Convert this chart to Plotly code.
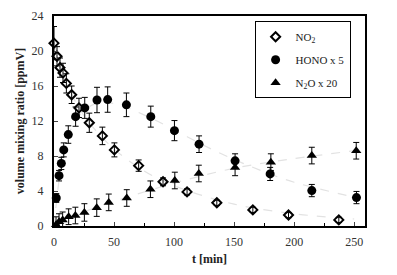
import plotly.graph_objects as go

# NO2
no2_t = [0, 2.5, 5, 7.5, 10.3, 14.7, 20.8, 29.4, 40.3, 50.3, 70.5, 90.8, 110.8, 135.6, 165.6, 195.3, 237.2]
no2_v = [20.9, 19.4, 18.1, 17.5, 16.3, 15.0, 13.5, 11.8, 10.3, 8.7, 6.9, 5.05, 3.9, 2.65, 1.84, 1.25, 0.7]
no2_e = [1.9, 1.1, 1.1, 1.1, 1.1, 1.0, 1.1, 1.1, 1.0, 0.8, 0.65, 0.45, 0.35, 0.3, 0.3, 0.3, 0.3]

# HONO x 5
hono_t = [1.9, 4.2, 6.1, 8.1, 11.9, 18.0, 25.6, 35.8, 44.7, 60.3, 80.6, 100.3, 120.8, 150.8, 180.0, 214.7, 251.9]
hono_v = [3.2, 5.75, 7.15, 8.7, 10.45, 12.5, 13.5, 14.4, 14.45, 13.85, 12.5, 10.9, 9.35, 7.45, 5.95, 4.05, 3.25]
hono_e = [0.5, 0.6, 0.7, 0.8, 1.0, 1.1, 1.2, 1.45, 1.45, 1.35, 1.2, 1.15, 0.95, 0.8, 0.75, 0.7, 0.7]

# N2O x 20
n2o_t = [1.7, 4.2, 7.2, 12.2, 17.8, 25.3, 35.6, 45.6, 60.6, 80.3, 100.6, 120.6, 150.8, 180.6, 214.7, 251.7]
n2o_v = [0.15, 0.5, 0.7, 1.06, 1.2, 1.55, 2.1, 2.7, 3.2, 4.2, 5.2, 6.0, 6.7, 7.3, 8.05, 8.6]
n2o_e = [0.9, 0.9, 0.9, 0.9, 0.95, 1.0, 1.0, 0.95, 0.95, 0.95, 0.95, 0.95, 0.95, 0.95, 0.95, 0.95]

# faint fit curves
fit_no2_t = [0, 10, 20, 30, 50, 75, 100, 150, 200, 250]
fit_no2_v = [21, 16.5, 13.7, 11.7, 8.8, 6.3, 4.6, 2.5, 1.4, 0.8]
fit_hono_t = [0, 5, 10, 20, 35, 50, 75, 100, 125, 150, 175, 200, 250]
fit_hono_v = [0, 6, 9.5, 12.5, 14, 14, 12.7, 11, 9.2, 7.6, 6.2, 5, 3.3]
fit_n2o_t = [0, 25, 50, 100, 150, 200, 250]
fit_n2o_v = [0, 1.6, 2.8, 4.9, 6.6, 7.7, 8.6]

FONT = "Liberation Serif"
fig = go.Figure()

for ft, fv in [(fit_no2_t, fit_no2_v), (fit_hono_t, fit_hono_v), (fit_n2o_t, fit_n2o_v)]:
    fig.add_trace(go.Scatter(x=ft, y=fv, mode="lines", line=dict(color="#e2e2e2", width=1.2, dash="dash", shape="spline"),
                             showlegend=False, hoverinfo="skip"))

def add(t, v, e, name, sym, size, grp):
    fig.add_trace(go.Scatter(
        x=t, y=v, mode="markers", name=name, cliponaxis=False, legendgroup=grp,
        marker=dict(symbol=sym, size=size, color="black", line=dict(color="black", width=2 if "open" in sym else 0)),
        error_y=dict(type="data", array=e, color="black", thickness=1, width=3),
    ))

add(no2_t, no2_v, no2_e, "NO<sub>2</sub>", "diamond-open", 7, "a")
add(hono_t, hono_v, hono_e, "HONO x 5", "circle", 9, "b")
add(n2o_t, n2o_v, n2o_e, "N<sub>2</sub>O x 20", "triangle-up", 9, "c")

fig.update_layout(
    width=397, height=275,
    margin=dict(l=54, r=32, t=9, b=49),
    paper_bgcolor="white", plot_bgcolor="white",
    font=dict(family=FONT, size=12, color="#333"),
    legend=dict(x=0.645, y=0.975, xanchor="left", yanchor="top",
                bordercolor="black", borderwidth=1, bgcolor="white",
                font=dict(family=FONT, size=11, color="#222"),
                itemwidth=30, tracegroupgap=4),
    xaxis=dict(range=[0, 259], tickvals=[0, 50, 100, 150, 200, 250], ticks="inside", ticklen=4,
               showline=True, linewidth=2, linecolor="black", mirror=True, showgrid=False, zeroline=False,
               minor=dict(dtick=25, ticks="inside", ticklen=3, tickcolor="black"),
               title=dict(text="<b>t [min]</b>", font=dict(family=FONT, size=12, color="#222"), standoff=6),
               ticklabelstandoff=4),
    yaxis=dict(range=[0, 24], tickvals=[0, 4, 8, 12, 16, 20, 24], ticks="inside", ticklen=4,
               showline=True, linewidth=2, linecolor="black", mirror=True, showgrid=False, zeroline=False,
               title=dict(text="<b>volume mixing ratio [ppmV]</b>", font=dict(family=FONT, size=12, color="#222"), standoff=4),
               ticklabelstandoff=6),
)

fig.write_html("out.html")
